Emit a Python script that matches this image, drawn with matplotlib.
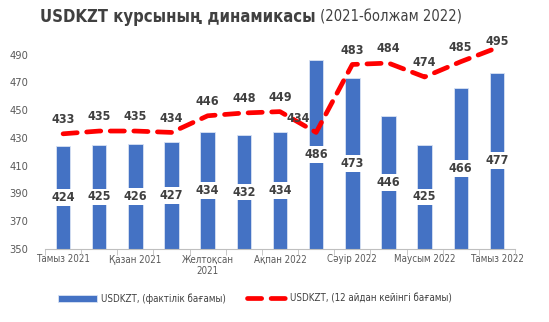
import numpy as np
import matplotlib; matplotlib.use('Agg')
import matplotlib.pyplot as plt

plt.rcParams['font.family'] = ['DejaVu Sans']
plt.rcParams['font.stretch'] = 'condensed'

months = ['Тамыз 2021', 'Қыркүйек 2021', 'Қазан 2021', 'Қараша 2021', 'Желтоқсан\n2021',
          'Қаңтар 2022', 'Ақпан 2022', 'Наурыз 2022', 'Сәуір 2022', 'Мамыр 2022',
          'Маусым 2022', 'Шілде 2022', 'Тамыз 2022']
actual   = [424, 425, 426, 427, 434, 432, 434, 486, 473, 446, 425, 466, 477]
forecast = [433, 435, 435, 434, 446, 448, 449, 434, 483, 484, 474, 485, 495]
yticks = list(range(350, 491, 20))

BLUE = '#4472C4'
RED = '#FF0000'
TXT = '#404040'

fig = plt.figure(figsize=(5.49, 3.22), dpi=100)
ax = fig.add_axes([0.082, 0.227, 0.856, 0.646])
x = np.arange(len(months))

bars = ax.bar(x, np.array(actual) - 350, bottom=350, width=0.4, color=BLUE,
              edgecolor='#d9e2f3', linewidth=0.6, zorder=2)
line, = ax.plot(x, forecast, color=RED, lw=3.4, dashes=(3, 2), dash_capstyle='round',
                solid_capstyle='round', zorder=3)

for xi, v in zip(x, actual):
    ax.text(xi, (350 + v) / 2, str(v), ha='center', va='center', fontsize=9,
            fontweight='bold', color=TXT, zorder=4,
            bbox=dict(boxstyle='square,pad=0.15', fc='white', ec='none'))

# forecast labels sit above the points; two are nudged like in the source chart
nudge = {7: (-0.5, 5.5), 12: (0, 0)}
for xi, v in zip(x, forecast):
    dx, dy = nudge.get(xi, (0, 5.5))
    ax.annotate(str(v), (xi + dx, v), xytext=(0, dy), textcoords='offset points',
                ha='center', va='bottom', fontsize=9, fontweight='bold', color=TXT, zorder=4)

ax.set_ylim(350, 500)
ax.set_xlim(-0.5, len(months) - 0.5)
ax.set_yticks(yticks)
ax.tick_params(axis='y', length=0, labelsize=8, labelcolor='#595959', pad=12)
ax.set_xticks(x[::2])
ax.set_xticklabels(months[::2], fontsize=7, color='#595959')
ax.set_xticks(np.arange(-0.5, len(months), 1), minor=True)
ax.tick_params(axis='x', which='major', length=0, pad=4)
ax.tick_params(axis='x', which='minor', length=4, color='#bfbfbf')
for s in ['top', 'right', 'left']:
    ax.spines[s].set_visible(False)
ax.spines['bottom'].set_color('#bfbfbf')

# title: bold part + regular part, laid out side by side
t1 = fig.text(0, 0.947, 'USDKZT курсының динамикасы', ha='left', va='center',
              fontsize=12, fontweight='bold', color=TXT)
t2 = fig.text(0, 0.947, ' (2021-болжам 2022)', ha='left', va='center',
              fontsize=10.5, color=TXT)
r = fig.canvas.get_renderer()
w1 = t1.get_window_extent(r).width
w2 = t2.get_window_extent(r).width
x0 = (251 - (w1 + w2) / 2) / fig.bbox.width
t1.set_x(x0)
t2.set_x(x0 + w1 / fig.bbox.width)

fig.legend([bars, line], ['USDKZT, (фактілік бағамы)', 'USDKZT, (12 айдан кейінгі бағамы)'],
           loc='lower center', bbox_to_anchor=(0.465, 0.03), ncol=2, frameon=False,
           fontsize=7, handlelength=4, handletextpad=0.4, columnspacing=2.2, labelcolor=TXT)

fig.savefig('out.png', dpi=100)
